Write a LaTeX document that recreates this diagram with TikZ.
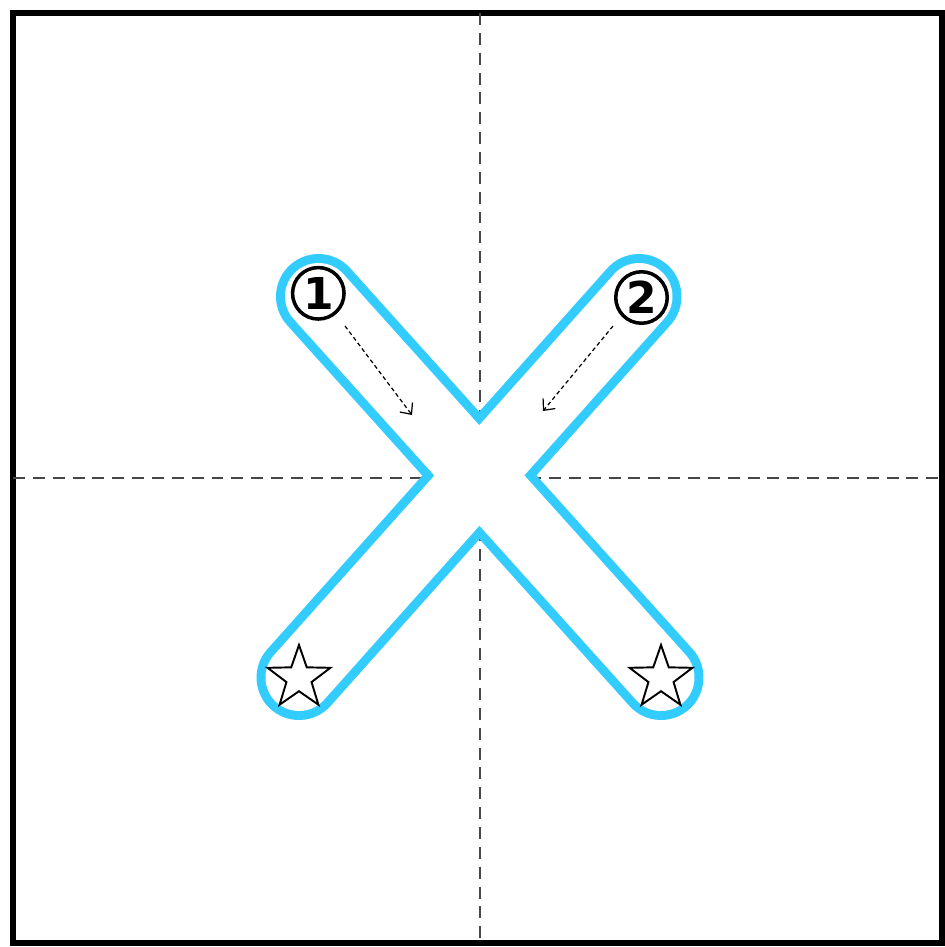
\documentclass[tikz,border=0pt]{standalone}
\usepackage{fontspec}
\setsansfont{DejaVu Sans}
\usetikzlibrary{shapes.geometric,arrows.meta}
\definecolor{armcyan}{RGB}{51,204,255}
\definecolor{axisgray}{RGB}{70,70,70}

\tikzset{
  frame/.style={line width=3.4pt},
  axis/.style={axisgray, line width=1.4pt, dash pattern=on 6.8pt off 4.5pt},
  armout/.style={armcyan, line width=1.7cm, line cap=round},
  armin/.style={white, line width=1.34cm, line cap=round},
  foldarrow/.style={line width=0.7pt, dash pattern=on 2.3pt off 1.7pt,
    -{Straight Barb[length=5pt,width=9pt]}},
  number/.style={circle, draw, line width=2pt, minimum size=1.03cm, inner sep=0pt,
    font=\sffamily\bfseries\fontsize{25}{25}\selectfont},
  starmark/.style={star, star points=5, star point ratio=2.5, draw, line width=1.1pt,
    minimum size=1.32cm, inner sep=0pt}
}

\begin{document}
\begin{tikzpicture}[x=0.02cm, y=-0.02cm]
  \useasboundingbox (0,0) rectangle (945,947);

  % Define points
  \coordinate (top) at (480,13);
  \coordinate (bottom) at (480,943);
  \coordinate (left) at (13,478);
  \coordinate (right) at (942,478);
  \coordinate (end1) at (318.5,296.5);
  \coordinate (end2) at (639,296.5);
  \coordinate (end3) at (299,677.5);
  \coordinate (end4) at (661,677.5);
  \coordinate (from1) at (345,326);
  \coordinate (to1) at (412,415);
  \coordinate (from2) at (613,326);
  \coordinate (to2) at (543,411);

  % Paper and fold lines
  \draw[frame] (13,13) rectangle (942,943);
  \draw[axis] (top) -- (bottom);
  \draw[axis] (left) -- (right);

  % The X
  \draw[armout] (end1) -- (end4);
  \draw[armout] (end2) -- (end3);
  \draw[armin] (end1) -- (end4);
  \draw[armin] (end2) -- (end3);

  % Define nodes
  \node[number] (n1) at (318.3,293.3) {1};
  \node[number] (n2) at (641.5,297.5) {2};
  \node[starmark] (s1) at (299,678) {};
  \node[starmark] (s2) at (661,678) {};

  % Connect the nodes
  \draw[foldarrow] (from1) -- (to1);
  \draw[foldarrow] (from2) -- (to2);
\end{tikzpicture}
\end{document}
